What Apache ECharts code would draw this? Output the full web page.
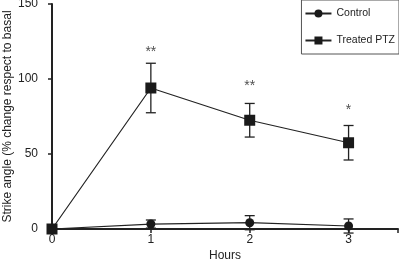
<!DOCTYPE html>
<html>
<head>
<meta charset="utf-8">
<script src="https://cdn.jsdelivr.net/npm/echarts@6/dist/echarts.min.js"></script>
<style>
  html, body { margin: 0; padding: 0; background: #fff; }
  #chart { width: 399px; height: 263px; }
</style>
</head>
<body>
<div id="chart"></div>
<script>
// data
const hours = [0, 1, 2, 3]
const controlMean = [0, 3.3, 4.2, 2]
const controlErr = [0, 2.7, 4.7, 4.7]
const treatedMean = [0, 94, 72.5, 57.5]
const treatedErr = [0, 16.5, 11.2, 11.5]
const starLabels = ['**', '**', '*']
const starHours = [1, 2, 3]
const starY = [118, 95, 79]
const yTicks = [0, 50, 100, 150]

const pts = (xs, ys) => xs.map((x, i) => [x, ys[i]])

// error bar: vertical line with a cap on top and bottom
function errorBar(params, api) {
  const x = api.value(0)
  const lo = api.coord([x, api.value(1)])
  const hi = api.coord([x, api.value(2)])
  const w = 5
  const style = { stroke: '#222', lineWidth: 1.3 }
  return {
    type: 'group',
    children: [
      { type: 'line', shape: { x1: hi[0], y1: hi[1], x2: lo[0], y2: lo[1] }, style },
      { type: 'line', shape: { x1: hi[0] - w, y1: hi[1], x2: hi[0] + w, y2: hi[1] }, style },
      { type: 'line', shape: { x1: lo[0] - w, y1: lo[1], x2: lo[0] + w, y2: lo[1] }, style }
    ]
  }
}
const errData = (means, errs) =>
  hours.map((h, i) => [h, means[i] - errs[i], means[i] + errs[i]]).filter(d => d[2] > d[1])

const myChart = echarts.init(document.getElementById('chart'))
const options = {
  backgroundColor: '#fff',
  animation: false,
  textStyle: { fontFamily: 'Liberation Sans, Arial, sans-serif' },
  grid: { left: 52, right: 1, top: 4, bottom: 34, outerBoundsMode: 'none', containLabel: false },
  legend: {
    right: 0,
    top: 0,
    orient: 'vertical',
    itemWidth: 26,
    itemHeight: 10,
    itemGap: 16,
    padding: [8, 4, 8, 3],
    borderColor: '#555',
    borderWidth: 1,
    backgroundColor: '#fff',
    textStyle: { color: '#222', fontSize: 10.5 },
    data: ['Control', 'Treated PTZ']
  },
  xAxis: {
    type: 'value',
    min: 0,
    max: 3.5,
    interval: 1,
    name: 'Hours',
    nameLocation: 'middle',
    nameGap: 21,
    nameMoveOverlap: false,
    nameTextStyle: { color: '#222', fontSize: 12 },
    axisLine: { lineStyle: { color: '#222', width: 2 } },
    axisTick: { length: 4, lineStyle: { color: '#222', width: 1.5 } },
    axisLabel: {
      color: '#222',
      fontSize: 12,
      margin: 5,
      formatter: v => (Number.isInteger(v) ? String(v) : '')
    },
    splitLine: { show: false }
  },
  yAxis: {
    type: 'value',
    min: 0,
    max: 150,
    interval: 50,
    name: 'Strike angle (% change respect to basal',
    nameLocation: 'middle',
    nameGap: 38,
    nameMoveOverlap: false,
    nameTextStyle: { color: '#222', fontSize: 12 },
    axisLine: { lineStyle: { color: '#222', width: 2 } },
    axisTick: { length: 4, lineStyle: { color: '#222', width: 1.5 } },
    axisLabel: { color: '#222', fontSize: 12, margin: 14 },
    splitLine: { show: false }
  },
  series: [
    {
      name: 'Control',
      type: 'line',
      data: pts(hours, controlMean),
      symbol: 'circle',
      symbolSize: 9,
      z: 3,
      itemStyle: { color: '#1a1a1a' },
      lineStyle: { color: '#222', width: 1.2 }
    },
    {
      name: 'Treated PTZ',
      type: 'line',
      data: pts(hours, treatedMean),
      symbol: 'rect',
      symbolSize: 11,
      z: 3,
      itemStyle: { color: '#1a1a1a' },
      lineStyle: { color: '#222', width: 1.2 }
    },
    {
      type: 'custom',
      renderItem: errorBar,
      data: errData(controlMean, controlErr),
      z: 2,
      silent: true
    },
    {
      type: 'custom',
      renderItem: errorBar,
      data: errData(treatedMean, treatedErr),
      z: 2,
      silent: true
    },
    {
      type: 'scatter',
      symbolSize: 0,
      silent: true,
      data: starHours.map((h, i) => ({ value: [h, starY[i]], name: starLabels[i] })),
      label: {
        show: true,
        position: 'inside',
        formatter: p => p.name,
        color: '#222',
        fontSize: 14
      }
    }
  ]
}
myChart.setOption(options)
</script>
</body>
</html>
